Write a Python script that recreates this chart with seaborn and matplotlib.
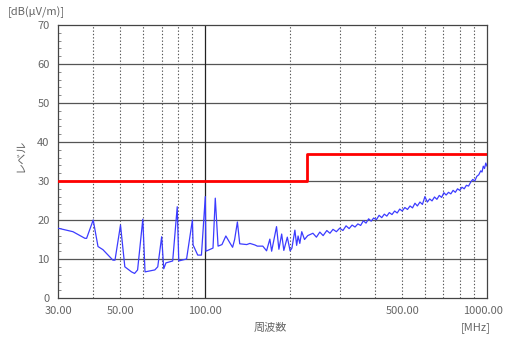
import numpy as np
import pandas as pd
import matplotlib
matplotlib.use("Agg")
import matplotlib.pyplot as plt
import matplotlib.transforms as mtransforms
import seaborn as sns

# 測定データ (周波数 MHz, レベル dB(uV/m))
freq = [30.0, 33.9, 37.4, 37.9, 40.0, 41.6, 43.3, 47.0, 47.8, 50.0,
        51.8, 54.7, 56.1, 57.5, 60.0, 61.1, 66.2, 67.8, 70.0, 71.2,
        72.5, 76.6, 79.5, 80.5, 85.8, 90.0, 90.5, 94.0, 96.9, 100.0,
        100.5, 106.5, 108.5, 111.0, 114.6, 118.3, 122.1, 125.0, 127.1, 130.0,
        132.5, 140.3, 144.0, 150.0, 153.0, 160.0, 165.0, 169.5, 172.0, 179.0,
        182.5, 186.7, 190.0, 195.5, 200.0, 203.0, 208.0, 211.0, 213.5, 216.5,
        220.0, 225.0, 231.0, 241.0, 248.0, 255.0, 262.0, 270.0, 277.0, 284.0,
        292.0, 300.0, 308.0, 316.0, 324.0, 332.0, 340.0, 348.0, 356.0, 364.0,
        372.0, 380.0, 388.0, 396.0, 405.0, 414.0, 423.0, 432.0, 441.0, 450.0,
        460.0, 470.0, 480.0, 490.0, 500.0, 511.0, 522.0, 533.0, 544.0, 555.0,
        566.0, 578.0, 590.0, 602.0, 614.0, 626.0, 638.0, 651.0, 664.0, 677.0,
        690.0, 703.0, 716.0, 730.0, 744.0, 758.0, 772.0, 786.0, 800.0, 815.0,
        830.0, 845.0, 860.0, 875.0, 890.0, 905.0, 920.0, 935.0, 950.0, 960.0,
        970.0, 980.0, 990.0, 1000.0]
level = [17.9, 17.0, 15.3, 15.3, 20.0, 13.2, 12.4, 9.7, 9.7, 18.7,
         8.0, 6.7, 6.3, 7.2, 20.2, 6.7, 7.2, 8.0, 15.7, 7.5,
         9.0, 9.5, 23.4, 9.5, 10.0, 20.0, 13.6, 11.0, 11.0, 26.0,
         12.0, 12.8, 25.6, 13.3, 13.7, 15.9, 14.2, 13.0, 15.0, 19.5,
         13.9, 13.7, 14.0, 13.6, 13.3, 13.3, 12.1, 15.1, 12.0, 18.3,
         12.5, 16.4, 12.2, 15.6, 12.1, 12.8, 17.4, 13.5, 15.9, 14.0,
         17.0, 15.0, 16.0, 16.6, 15.6, 16.9, 16.0, 17.3, 16.6, 17.6,
         17.0, 17.9, 17.3, 18.5, 17.8, 18.7, 18.2, 19.0, 18.6, 19.8,
         19.2, 20.3, 19.7, 20.5, 20.1, 21.2, 20.6, 21.5, 21.0, 21.9,
         21.4, 22.3, 21.8, 22.8, 22.3, 23.2, 22.7, 23.6, 23.1, 24.3,
         23.6, 24.6, 24.0, 26.0, 24.6, 25.4, 24.9, 25.9, 25.3, 26.3,
         25.8, 27.0, 26.4, 27.1, 26.7, 27.6, 27.1, 28.0, 27.6, 28.4,
         28.0, 28.9, 28.7, 29.7, 30.4, 30.0, 31.2, 31.6, 32.6, 32.3,
         33.8, 33.2, 34.6, 33.8]

# 規格値
limit_freq = [30, 230, 230, 1000]
limit_level = [30, 30, 37, 37]

xtick_vals = [30, 50, 100, 500, 1000]
xtick_labels = ["30.00", "50.00", "100.00", "500.00", "1000.00"]
ytick_vals = [0, 10, 20, 30, 40, 50, 60, 70]

sns.set_style("white")
plt.rcParams['font.family'] = ['Noto Sans CJK JP', 'DejaVu Sans']

fig = plt.figure(figsize=(5.05, 3.4), dpi=100)
ax = fig.add_axes([58 / 505, 42 / 340, 429 / 505, 273 / 340])

grid_c = "#555555"
for v in range(10, 70, 10):
    ax.axhline(v, color=grid_c, lw=0.9, zorder=1)
for v in [40, 50, 60, 70, 80, 90, 200, 300, 400, 500, 600, 700, 800, 900]:
    ax.axvline(v, color=grid_c, lw=0.8, ls=(0, (1.2, 1.8)), zorder=1)
ax.axvline(100, color="#222222", lw=0.9, zorder=1)

df = pd.DataFrame({"freq": freq, "level": level})
sns.lineplot(data=df, x="freq", y="level", ax=ax, color="#3c3cff", lw=0.9,
             sort=False, estimator=None, zorder=3)
lim = pd.DataFrame({"freq": limit_freq, "level": limit_level})
sns.lineplot(data=lim, x="freq", y="level", ax=ax, color="#ff0000", lw=2,
             sort=False, estimator=None, zorder=4)

ax.set_xscale("log")
ax.set_xlim(30, 1000)
ax.set_ylim(0, 70)
ax.set_xticks(xtick_vals)
ax.set_xticklabels(xtick_labels)
ax.xaxis.set_minor_locator(matplotlib.ticker.NullLocator())
ax.set_yticks(ytick_vals)
ax.set_yticks(np.arange(0, 70, 2), minor=True)
ax.tick_params(axis="x", length=0, labelsize=8, labelcolor="#666666", pad=6)
ax.tick_params(axis="y", which="major", length=0, labelsize=8, labelcolor="#666666", pad=6)
ax.tick_params(axis="y", which="minor", length=2.5, direction="in", color="#777777", left=True)
ax.set_xlabel("")
ax.set_ylabel("")
for s in ax.spines.values():
    s.set_color("#444444")
    s.set_linewidth(0.9)

# 右端のラベルを枠内に収める
last = ax.get_xticklabels()[-1]
last.set_transform(last.get_transform() +
                   mtransforms.ScaledTranslation(-4 / 100, 0, fig.dpi_scale_trans))

fig.text(8 / 505, 1 - 12 / 340, "[dB(μV/m)]", fontsize=8, color="#666666", va="center")
fig.text(20 / 505, 1 - 155 / 340, "レベル", fontsize=8, color="#666666",
         rotation=90, ha="center", va="center")
fig.text(270 / 505, 1 - 328 / 340, "周波数", fontsize=8, color="#666666",
         ha="center", va="center")
fig.text(476 / 505, 1 - 328 / 340, "[MHz]", fontsize=8, color="#666666",
         ha="center", va="center")

fig.savefig("out.png", dpi=100)
